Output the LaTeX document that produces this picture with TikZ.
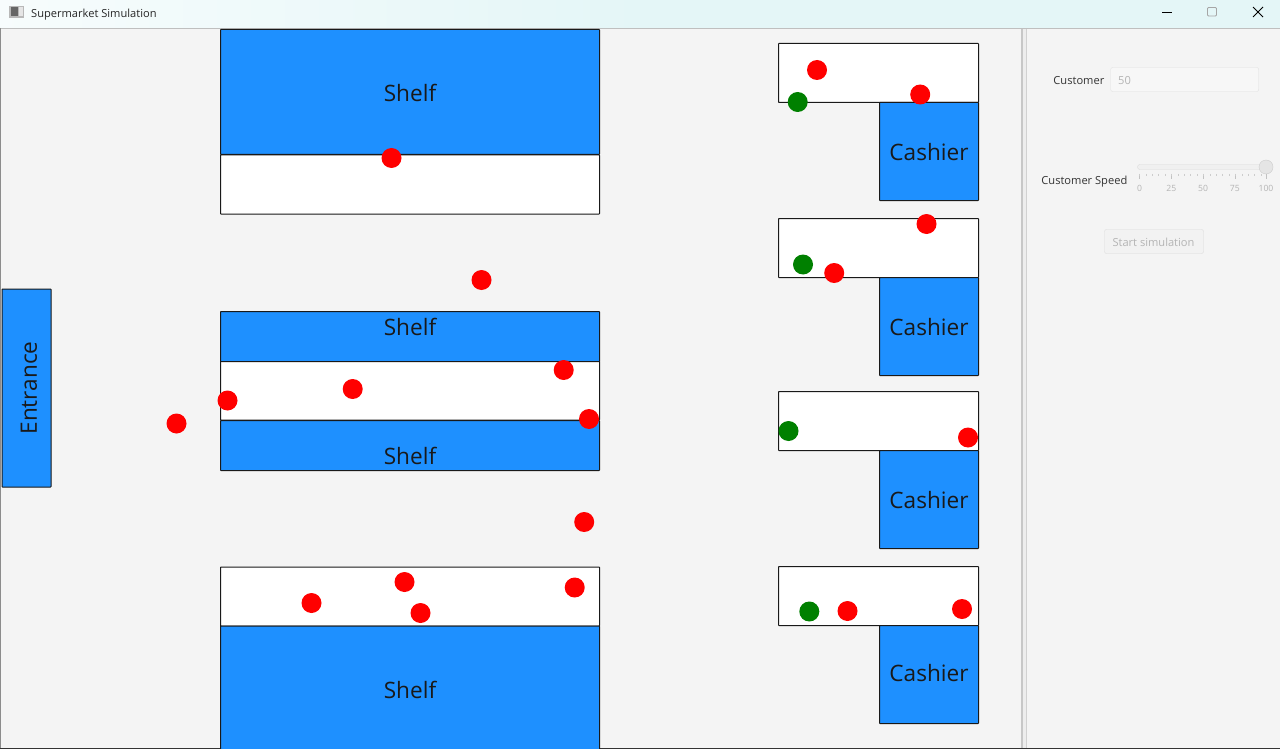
\documentclass[tikz,border=0pt]{standalone}
\usepackage{fontspec}
\setmainfont{Open Sans}
\definecolor{bay}{HTML}{1E90FF}
\definecolor{panel}{HTML}{F4F4F4}
\definecolor{barl}{HTML}{E4F6F7}
\definecolor{cust}{HTML}{FF0000}
\definecolor{clerk}{HTML}{008000}
\definecolor{dis}{HTML}{B4B4B4}
\tikzset{
 x=1pt,y=-1pt,
 bluebox/.style={draw=black!90,fill=bay,line width=1pt,rounded corners=0.5pt},
 whitebox/.style={draw=black!90,fill=white,line width=1pt,rounded corners=0.5pt},
 biglabel/.style={font=\fontsize{22.6}{26}\selectfont,text=black!90,inner sep=0pt},
 uilabel/.style={font=\fontsize{11.1}{14}\selectfont,text=black!80,inner sep=0pt},
 tick/.style={font=\fontsize{8.6}{10}\selectfont,text=dis,inner sep=0pt},
 shopper/.style={circle,fill=cust,minimum size=20pt,inner sep=0pt},
 staff/.style={circle,fill=clerk,minimum size=20pt,inner sep=0pt},
}
\newcommand{\boxat}[6]{\node[#2,anchor=north west,minimum width=#5pt,minimum height=#6pt,inner sep=0pt,outer sep=0pt] (#1) at (#3,#4) {};}
\begin{document}
\begin{tikzpicture}
\useasboundingbox (0,0) rectangle (1280,749);
\fill[panel] (0,0) rectangle (1280,749);
% title bar
\shade[left color=barl!30!white,right color=barl] (0,0) rectangle (640,28);
\fill[barl] (640,0) rectangle (1280,28);
\draw[black!25,line width=1pt] (0,28.3) -- (1280,28.3);
\draw[black!45,line width=0.8pt] (0.4,28) -- (0.4,749);
\draw[black!80,line width=1.2pt] (0,748.6) -- (1280,748.6);
\fill[black!28] (9,6) rectangle (24,18);
\fill[white!90!black] (19,7.5) rectangle (22.5,16.5);
\fill[black!60] (10.5,7.5) rectangle (18,16.5);
\node[uilabel,anchor=west,text=black!85] (title) at (31,14.5) {Supermarket Simulation};
% window buttons
\draw[black,line width=1pt] (1162,12.5) -- (1172,12.5);
\draw[black!35,line width=0.8pt,rounded corners=1pt] (1207.5,7.5) rectangle (1216.5,16);
\draw[black,line width=0.9pt] (1253,7) -- (1263,17);
\draw[black,line width=0.9pt] (1263,7) -- (1253,17);
% divider
\fill[black!22] (1021,29) rectangle (1023,748);
\fill[white!93!black] (1023,29) rectangle (1026,748);
\fill[black!18] (1026,29) rectangle (1027,748);
% shelves and aisles
\boxat{entrance}{bluebox}{2}{289}{49}{198}
\node[biglabel,rotate=90] (entrancetext) at (29,388) {Entrance};
\boxat{aisleA}{whitebox}{220.5}{155}{379}{59}
\boxat{shelfA}{bluebox}{220.5}{29.5}{379}{125}
\node[biglabel] (shelfAtext) at (410,93) {Shelf};
\boxat{aisleB}{whitebox}{220.5}{361}{379}{59}
\boxat{shelfB}{bluebox}{220.5}{311.5}{379}{50}
\node[biglabel] (shelfBtext) at (410,327) {Shelf};
\boxat{shelfC}{bluebox}{220.5}{420.5}{379}{50}
\node[biglabel] (shelfCtext) at (410,456) {Shelf};
\boxat{aisleD}{whitebox}{220.5}{567}{379}{59}
\boxat{shelfD}{bluebox}{220.5}{626}{379}{125}
\node[biglabel] (shelfDtext) at (410,690) {Shelf};
% cashiers
\boxat{qA}{whitebox}{778.5}{43.5}{200}{59}
\boxat{cashA}{bluebox}{879.5}{102.5}{99}{98}
\node[biglabel] (cashAtext) at (929,152.5) {Cashier};
\boxat{qB}{whitebox}{778.5}{218.5}{200}{59}
\boxat{cashB}{bluebox}{879.5}{277.5}{99}{98}
\node[biglabel] (cashBtext) at (929,327.5) {Cashier};
\boxat{qC}{whitebox}{778.5}{391.5}{200}{59}
\boxat{cashC}{bluebox}{879.5}{450.5}{99}{98}
\node[biglabel] (cashCtext) at (929,500.5) {Cashier};
\boxat{qD}{whitebox}{778.5}{566.5}{200}{59}
\boxat{cashD}{bluebox}{879.5}{625.5}{99}{98}
\node[biglabel] (cashDtext) at (929,673.5) {Cashier};
% customers
\foreach \n/\x/\y in {a/391.5/158,b/481.5/280,c/352.7/389,d/563.7/370,e/227.5/400.5,f/176.5/423.5,g/589/419,h/584.2/522,i/404.5/582,j/311.5/603,k/420.5/613,l/574.7/587.5,m/817/70,n/920.2/94.5,o/926.5/224,p/834.2/273,q/968/437.5,r/847.5/611,s/962/609}
  \node[shopper] (c\n) at (\x,\y) {};
\foreach \n/\x/\y in {a/797.7/102,b/803/264.5,c/788.5/431,d/809.3/611.5}
  \node[staff] (s\n) at (\x,\y) {};
% side panel
\node[uilabel,anchor=east] (custlabel) at (1104.5,81) {Customer};
\node[draw=black!12,fill=white!97!black,rounded corners=2pt,minimum width=148pt,minimum height=24pt,inner sep=0pt,anchor=west] (custfield) at (1110.5,79.5) {};
\node[uilabel,anchor=west,text=dis] (custvalue) at (1118,81) {50};
\node[uilabel,anchor=east] (speedlabel) at (1127.5,181.5) {Customer Speed};
\draw[black!14,fill=white!94!black,rounded corners=2.5pt] (1137.5,164.5) rectangle (1266,169.5);
\node[circle,draw=black!20,fill=black!10,minimum size=14pt,inner sep=0pt] (thumb) at (1266,167) {};
\foreach \x in {1139.5,1171.3,1203,1234.8,1266} \draw[black!24,line width=0.6pt] (\x,174) -- (\x,179);
\foreach \x in {1139.5,1145.9,...,1266} \draw[black!20,line width=0.5pt] (\x,174) -- (\x,176.5);
\node[tick] (t0) at (1139.5,188) {0};
\node[tick] (t25) at (1171.3,188) {25};
\node[tick] (t50) at (1203,188) {50};
\node[tick] (t75) at (1234.8,188) {75};
\node[tick] (t100) at (1266,188) {100};
\node[draw=black!14,fill=black!5,rounded corners=2pt,minimum width=99pt,minimum height=24pt,inner sep=0pt] (startbtn) at (1154,241.5) {};
\node[uilabel,text=dis] (starttext) at (1153.5,242.5) {Start simulation};
\end{tikzpicture}
\end{document}
